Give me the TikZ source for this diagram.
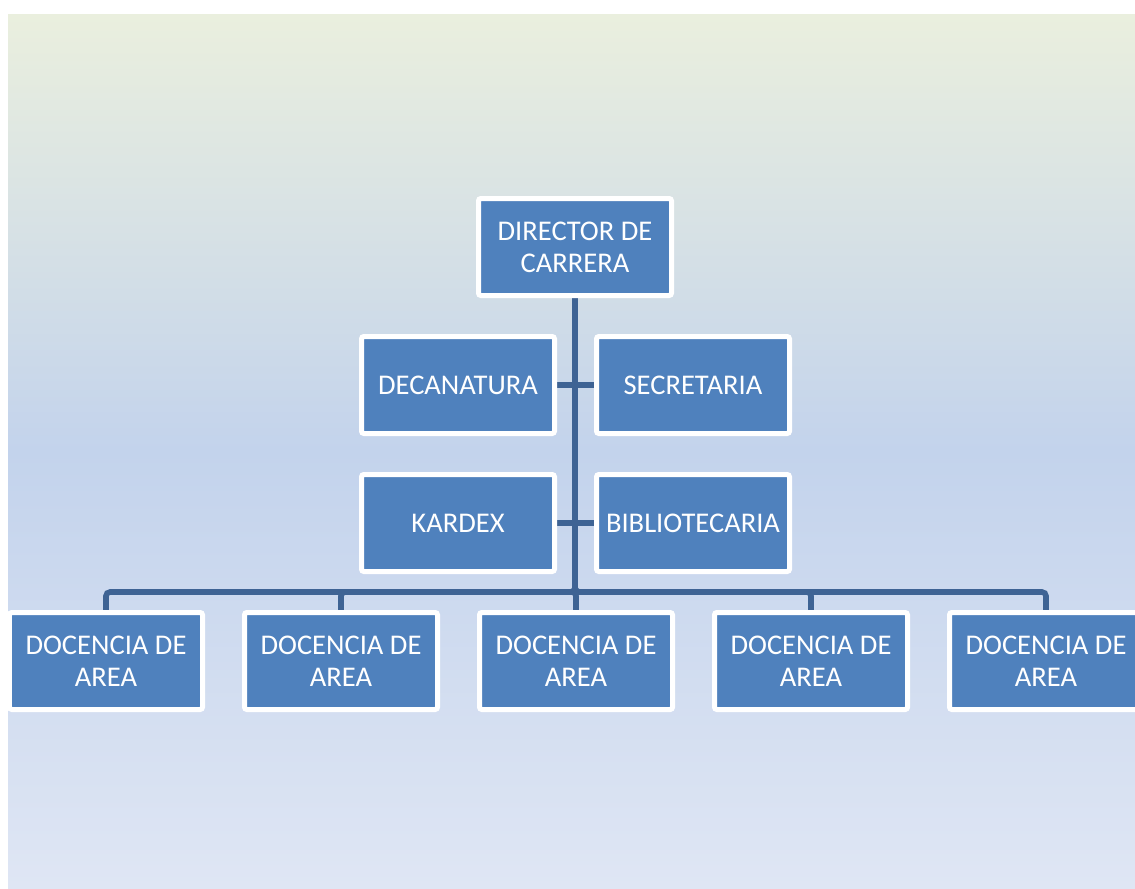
\documentclass[tikz,border=0pt]{standalone}
\usepackage{fontspec}
\setmainfont{Carlito}
\usepackage{xcolor}
\usepackage{tikz}
\usetikzlibrary{positioning,calc}

\definecolor{boxblue}{RGB}{79,129,189}
\definecolor{linkblue}{RGB}{62,99,148}
\definecolor{bgtop}{RGB}{234,239,222}
\definecolor{bgmid}{RGB}{195,211,236}
\definecolor{bgbot}{RGB}{223,230,244}

\pgfdeclarelayer{bg}
\pgfdeclarelayer{links}
\pgfsetlayers{bg,links,main}

\begin{document}
\begin{tikzpicture}[x=0.25mm, y=-0.25mm,
    unit/.style={fill=boxblue, draw=white, line width=1.25mm, rounded corners=0.6mm,
        minimum width=48.25mm, minimum height=24.25mm, inner sep=0pt,
        text=white, align=center, font=\fontsize{20.3pt}{22.8pt}\selectfont},
    link/.style={draw=linkblue, line width=1.4mm, rounded corners=1mm}]

    % Page and gradient panel
    \useasboundingbox (0,0) rectangle (1135,888);
    \clip (0,0) rectangle (1135,888);
    \begin{pgfonlayer}{bg}
        \shade[top color=bgtop, bottom color=bgbot, middle color=bgmid]
            (8,14) rectangle (1135,888);
    \end{pgfonlayer}

    % Head of the chart
    \node[unit] (dir) at (575,247) {DIRECTOR DE\\CARRERA};

    % Staff boxes on both sides of the trunk
    \node[unit] (dec) at (458,385) {DECANATURA};
    \node[unit] (sec) at (693,385) {SECRETARIA};
    \node[unit] (kar) at (458,523) {KARDEX};
    \node[unit] (bib) at (693,523) {BIBLIOTECARIA};

    % Area teaching units
    \foreach \i/\x in {1/106, 2/341, 3/576, 4/811, 5/1046}
        \node[unit] (doc\i) at (\x,661) {DOCENCIA DE\\AREA};

    \coordinate (bus) at (575,592);

    % Connectors
    \begin{pgfonlayer}{links}
        \foreach \i in {1,...,5}
            \draw[link] (dir.south) -- (bus) -| (doc\i.north);
        \draw[link] (dec.east) -- (sec.west);
        \draw[link] (kar.east) -- (bib.west);
    \end{pgfonlayer}

\end{tikzpicture}
\end{document}
